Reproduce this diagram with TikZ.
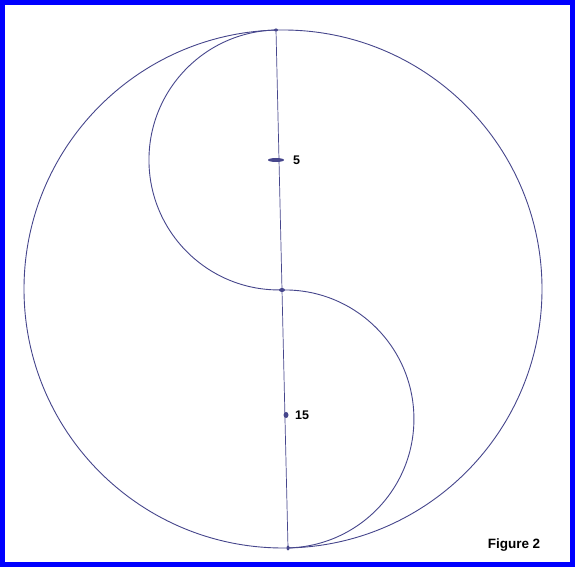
\documentclass[tikz,border=0pt]{standalone}
\usepackage{fontspec}
\setmainfont{Liberation Sans}
\begin{document}
\begin{tikzpicture}[x=1pt,y=1pt,
  pen/.style={draw=penblue,line width=0.9pt},
  lbl/.style={font=\bfseries\fontsize{12.5}{13}\selectfont,inner sep=0pt,anchor=west},
  markdot/.style={fill=penblue,draw=none}]
\definecolor{penblue}{RGB}{70,70,140}
\definecolor{frameblue}{RGB}{0,0,255}
\useasboundingbox (0,0) rectangle (575,567);
\fill[white] (0,0) rectangle (575,567);
% points
\coordinate (top) at (276,537);
\coordinate (mid) at (282,277);
\coordinate (bot) at (288,19);
\coordinate (c5) at (276,407);
\coordinate (c15) at (286,152);
% outer circle
\draw[pen] (283,278) circle (259);
% diameter
\draw[pen,line width=0.7pt] (top) -- (mid) -- (bot);
% S curve
\draw[pen] (top) arc[start angle=91.3,end angle=271.3,radius=130];
\draw[pen] (mid) arc[start angle=91.3,end angle=-88.7,radius=129];
% marks
\fill[markdot] (c5) ellipse (8 and 2);
\fill[markdot] (mid) ellipse (3 and 2);
\fill[markdot] (c15) ellipse (2.5 and 3);
\fill[markdot] (bot) ellipse (1.5 and 2.5);
\fill[markdot] (top) ellipse (2 and 1.5);
% labels
\node[lbl] (l5) at (293,407) {5};
\node[lbl] (l15) at (295,152) {15};
\node[font=\bfseries\fontsize{13.5}{14}\selectfont,inner sep=0pt] (fig) at (514,22) {Figure 2};
% frame
\draw[frameblue,line width=5pt] (2.5,2.5) rectangle (572.5,564.5);
\end{tikzpicture}
\end{document}
